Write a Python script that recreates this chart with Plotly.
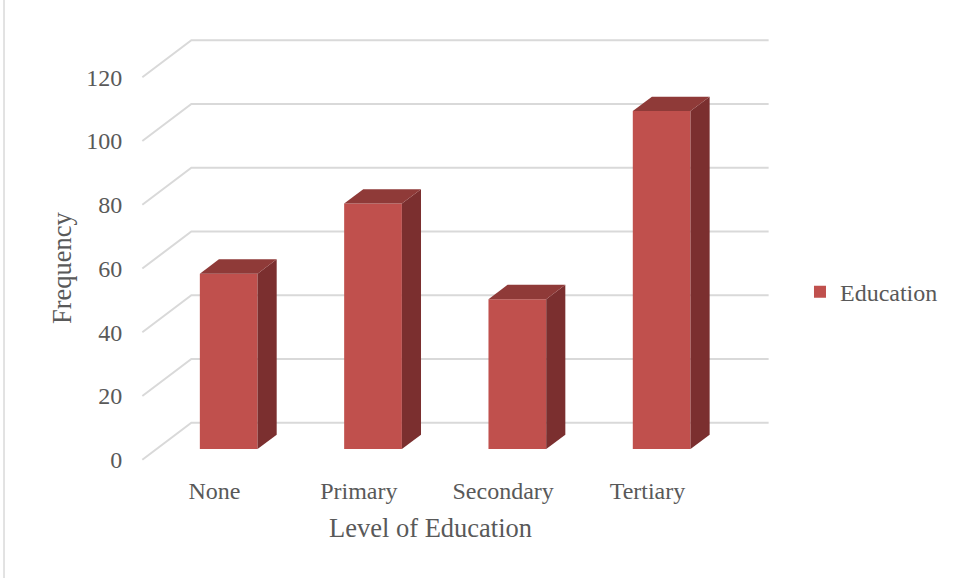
import plotly.graph_objects as go

categories = ["None", "Primary", "Secondary", "Tertiary"]
frequency = [55, 77, 47, 106]
y_ticks = [0, 20, 40, 60, 80, 100, 120]
series_name = "Education"

# oblique projection parameters (axis units)
DX = 0.3397   # depth shift in category units
DY = 11.6     # depth shift in value units
T0, T1 = 0.29, 0.68   # bar front / back depth fraction
BW = 0.40             # bar width

FRONT = "#C0504D"
TOP = "#8F3A38"
SIDE = "#7B2F2F"
GRID = "#D9D9D9"
FONT = "Liberation Serif, Times New Roman, serif"
TXT = "#595959"

n = len(categories)
fig = go.Figure()

# gridlines (floor diagonal + back wall) as shapes below traces
shapes = []
for v in y_ticks:
    path = f"M 0,{v} L {DX},{v+DY} L {n+DX},{v+DY}"
    shapes.append(dict(type="path", path=path, xref="x", yref="y",
                       line=dict(color=GRID, width=2), layer="below"))

# left border line of the chart area
shapes.append(dict(type="line", xref="paper", yref="paper",
                   x0=-0.211, x1=-0.211, y0=-0.3, y1=1.2,
                   line=dict(color="#D9D9D9", width=1.5), layer="below"))

# front faces
xs = [i + 0.5 + T0 * DX for i in range(n)]
fig.add_trace(go.Bar(x=xs, y=frequency, base=[T0 * DY] * n, width=BW,
                     marker=dict(color=FRONT, line=dict(width=0)),
                     name=series_name, showlegend=True, hoverinfo="skip"))

# side and top faces
d = T1 - T0
for i, v in enumerate(frequency):
    xl = i + 0.5 - BW / 2 + T0 * DX
    xr = xl + BW
    yb = T0 * DY
    yt = v + T0 * DY
    # side face
    fig.add_trace(go.Scatter(
        x=[xr, xr + d * DX, xr + d * DX, xr, xr],
        y=[yb, yb + d * DY, yt + d * DY, yt, yb],
        fill="toself", fillcolor=SIDE, mode="lines", line=dict(width=0),
        showlegend=False, hoverinfo="skip"))
    # top face
    fig.add_trace(go.Scatter(
        x=[xl, xr, xr + d * DX, xl + d * DX, xl],
        y=[yt, yt, yt + d * DY, yt + d * DY, yt],
        fill="toself", fillcolor=TOP, mode="lines", line=dict(width=0),
        showlegend=False, hoverinfo="skip"))

fig.update_layout(
    width=962, height=578,
    margin=dict(l=138, r=189, t=37, b=115),
    paper_bgcolor="white", plot_bgcolor="white",
    font=dict(family=FONT, color=TXT, size=24),
    shapes=shapes,
    showlegend=True,
    legend=dict(x=1.0425, y=0.401, xanchor="left", yanchor="middle",
                font=dict(family=FONT, size=24, color=TXT),
                bgcolor="rgba(0,0,0,0)"),
    xaxis=dict(range=[-0.03, 4.37], showgrid=False, zeroline=False,
               showline=False, tickmode="array",
               tickvals=[i + 0.5 for i in range(n)], ticktext=categories,
               ticks="outside", ticklen=6, tickcolor="rgba(0,0,0,0)",
               tickfont=dict(family=FONT, size=24, color=TXT), fixedrange=True),
    yaxis=dict(range=[-1, 132.6], showgrid=False, zeroline=False,
               showline=False, tickmode="array", tickvals=y_ticks,
               ticktext=[str(t) for t in y_ticks],
               ticks="outside", ticklen=10, tickcolor="rgba(0,0,0,0)",
               tickfont=dict(family=FONT, size=24, color=TXT), fixedrange=True),
    annotations=[
        dict(text="Frequency", xref="paper", yref="paper",
             x=(62 - 138) / 635, y=(463 - 268) / 426, textangle=-90,
             showarrow=False, xanchor="center", yanchor="middle",
             font=dict(family=FONT, size=26.5, color=TXT)),
        dict(text="Level of Education", xref="paper", yref="paper",
             x=(430 - 138) / 635, y=(463 - 528) / 426,
             showarrow=False, xanchor="center", yanchor="middle",
             font=dict(family=FONT, size=26.5, color=TXT)),
    ],
)

fig.write_html("out.html")
